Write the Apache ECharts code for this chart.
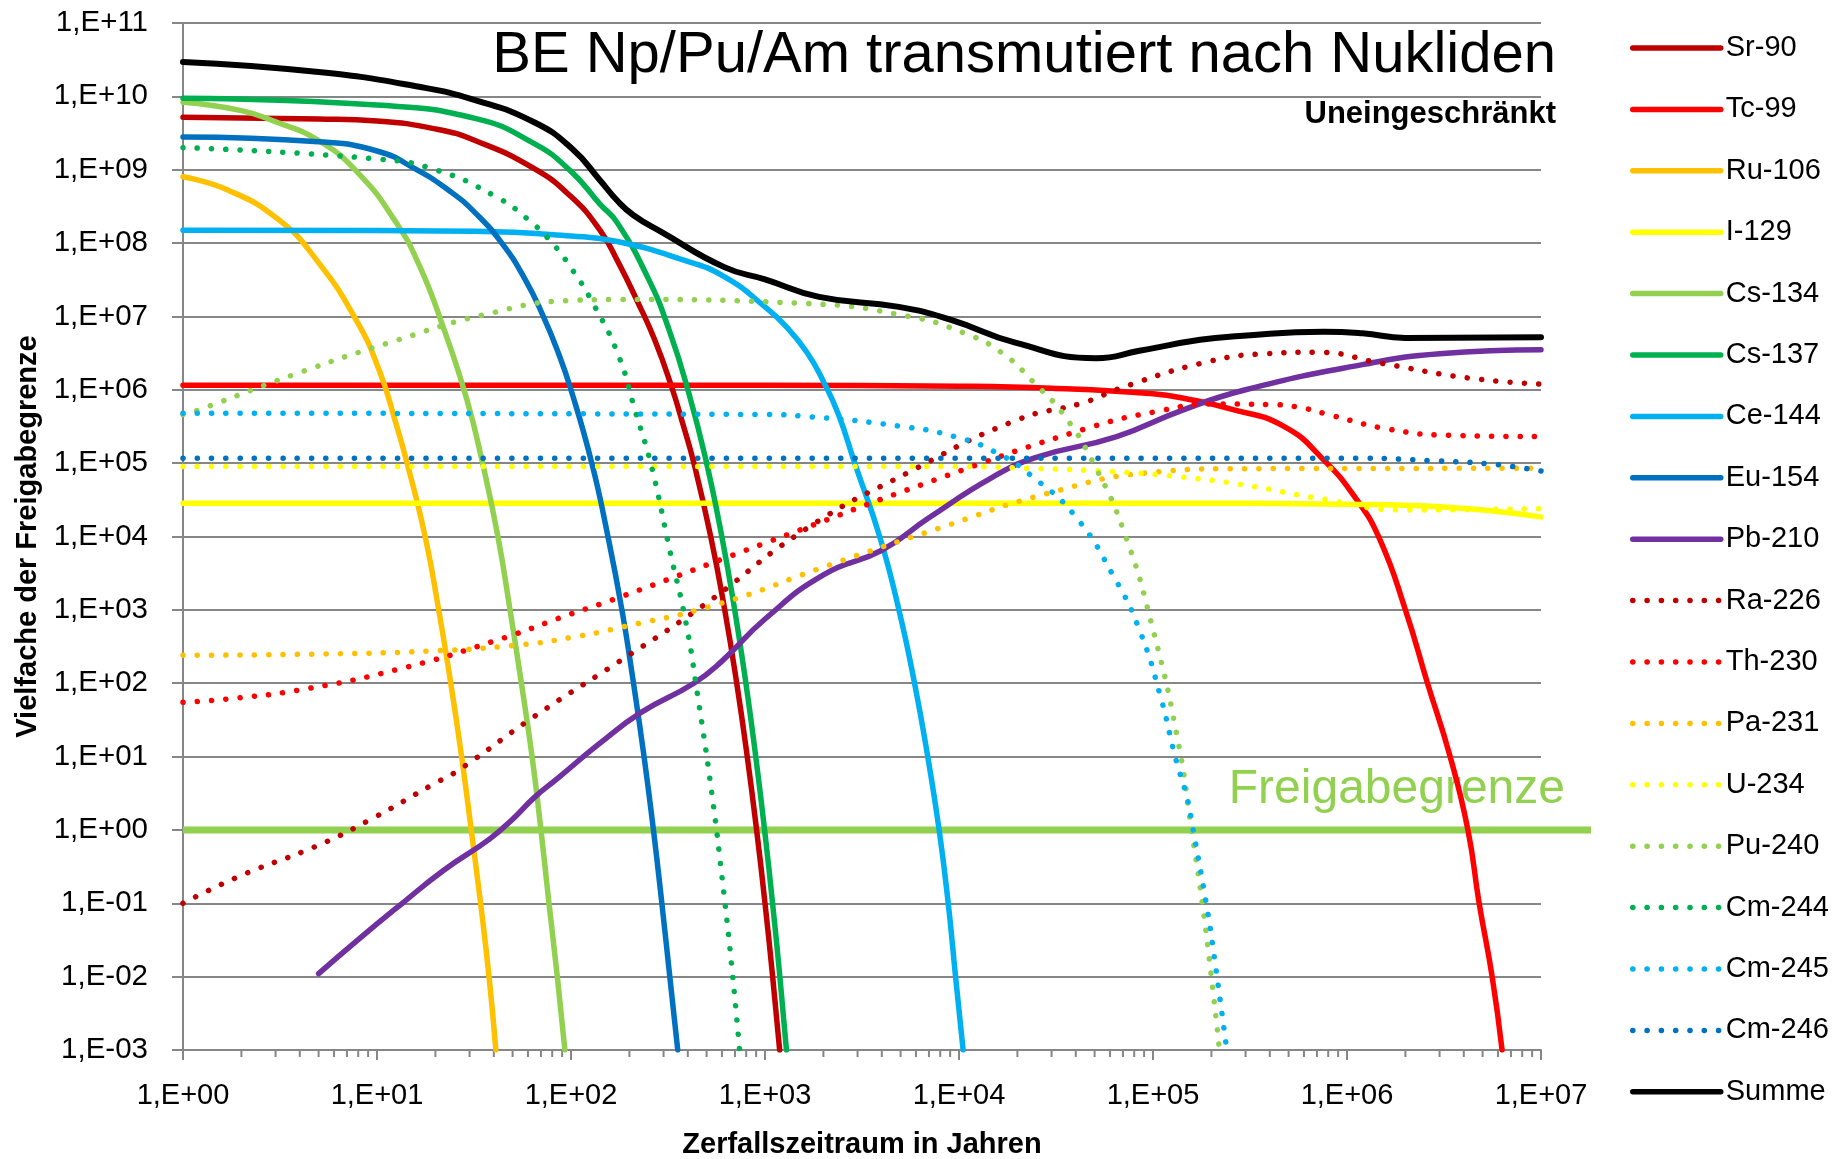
<!DOCTYPE html>
<html>
<head>
<meta charset="utf-8">
<script src="https://cdn.jsdelivr.net/npm/echarts@6/dist/echarts.min.js"></script>
<style>
  html, body { margin: 0; padding: 0; background: #fff; }
  #echart { width: 1845px; height: 1159px; }
</style>
</head>
<body>
<div id="echart"></div>
<script>
const FONT = "'Liberation Sans', Arial, sans-serif";

// Werte [Jahre, Vielfache der Freigabegrenze]
const sr90 = [[1,5.2e9],[5,4.9e9],[10,4.6e9],[20,3.6e9],[32,2.5e9],[64,1.05e9],[100,4.3e8],[141,1.5e8],[175,5.5e7],[220,1.6e7],[270,4.8e6],[330,1.1e6],[380,3.2e5],[430,1e5],[525,1e4],[620,1e3],[715,100],[810,10],[905,1],[1000,0.1],[1095,0.01],[1190,0.001]];
const tc99 = [[1,1.15e6],[1000,1.15e6],[1e4,1.12e6],[3e4,1.05e6],[1e5,8.8e5],[1.5e5,7.5e5],[2.5e5,5.5e5],[4.7e5,3.2e5],[7.6e5,1.1e5],[1.12e6,3.2e4],[1.48e6,9e3],[2e6,1e3],[2.6e6,100],[3.4e6,10],[4.2e6,1],[4.8e6,0.1],[5.6e6,0.01],[6.3e6,0.001]];
const ru106 = [[1,8e8],[1.7,5.3e8],[3.1,2.1e8],[4.85,6e7],[7.8,9e6],[10.3,1.8e6],[12.4,3.8e5],[14.3,1e5],[17.7,1e4],[20.8,1e3],[24,100],[27.3,10],[30.6,1],[34.2,0.1],[37.8,0.01],[41,0.001]];
const i129 = [[1,2.85e4],[1e5,2.85e4],[1e6,2.75e4],[3e6,2.55e4],[1e7,1.85e4]];
const cs134 = [[1,8.3e9],[2,6.4e9],[3,4.5e9],[5,2.5e9],[8,9e8],[12.4,2e8],[16.5,5e7],[22,7e6],[29,7.5e5],[35,1e5],[42,1e4],[48.5,1e3],[55.5,100],[63,10],[70,1],[77,0.1],[85,0.01],[93,0.001]];
const cs137 = [[1,9.4e9],[10,7.6e9],[32,5e9],[64,2.3e9],[100,9.5e8],[141,3.4e8],[173,1.9e8],[250,3.3e7],[320,6.6e6],[405,9e5],[500,1e5],[599,1e4],[698,1e3],[797,100],[896,10],[995,1],[1094,0.1],[1193,0.01],[1290,0.001]];
const ce144 = [[1,1.5e8],[10,1.48e8],[32,1.45e8],[100,1.25e8],[173,1.05e8],[378,5.9e7],[616,3.5e7],[1000,1.35e7],[1290,7.2e6],[1650,3.2e6],[2000,1.3e6],[2400,4.5e5],[2900,1e5],[3900,1e4],[4900,1e3],[5900,100],[6900,10],[7900,1],[8800,0.1],[9600,0.01],[10500,0.001]];
const eu154 = [[1,2.8e9],[5,2.4e9],[10,1.8e9],[16,1e9],[24,5e8],[32,2.6e8],[44,1e8],[58,3.2e7],[72,1e7],[86,3.2e6],[100,1e6],[128,1e5],[155,1e4],[183,1e3],[210,100],[238,10],[266,1],[294,0.1],[323,0.01],[355,0.001]];
const pb210 = [[5,0.011],[8,0.032],[13.5,0.1],[22,0.28],[38,0.75],[50,1.4],[65,2.8],[85,5],[140,15],[230,40],[430,100],[600,200],[1000,750],[2000,3e3],[4000,6.5e3],[7000,1.8e4],[1.5e4,6.5e4],[2.5e4,1.2e5],[6.5e4,2.3e5],[1.4e5,5.2e5],[3e5,1e6],[1.2e6,2.2e6],[3e6,3.1e6],[1e7,3.5e6]];
const ra226 = [[1,0.1],[2,0.24],[5,0.62],[9.3,1.4],[19.5,4.2],[26.5,6.6],[64.5,35],[173,190],[470,1.1e3],[1650,1.3e4],[5500,7.5e4],[1.95e4,3.8e5],[4.4e4,6.7e5],[7.1e4,1.1e6],[1.9e5,2.4e6],[3.8e5,3.1e6],[7e5,3.25e6],[1.5e6,2.3e6],[4.2e6,1.45e6],[1e7,1.2e6]];
const th230 = [[1,55],[1.7,61],[4,81],[13,156],[42,390],[100,880],[180,1.5e3],[1070,8.7e3],[7500,5.9e4],[4.6e4,3e5],[1.1e5,5.2e5],[2e5,6.4e5],[4e5,6.3e5],[6e5,5.6e5],[8.5e5,4.4e5],[1.65e6,2.9e5],[3.3e6,2.4e5],[1e7,2.3e5]];
const pa231 = [[1,240],[5,250],[19,275],[53,330],[100,420],[177,570],[575,1.2e3],[2100,4e3],[7900,1.3e4],[2.9e4,3.9e4],[9.5e4,7.4e4],[2.7e5,8.4e4],[1e7,8.5e4]];
const u234 = [[1,9e4],[1e4,9e4],[2.3e4,8.5e4],[5.5e4,7.8e4],[1.3e5,6.6e4],[3e5,5e4],[7.2e5,3.3e4],[2e6,2.3e4],[1e7,2.4e4]];
const pu240 = [[1,4.6e5],[1.2,5.3e5],[3.7,1.6e6],[11.6,4.4e6],[36.6,1.07e7],[100,1.65e7],[173,1.7e7],[1640,1.5e7],[5500,1e7],[1.07e4,5.9e6],[1.66e4,3.2e6],[2.45e4,1.23e6],[3.5e4,4.4e5],[5e4,9.3e4],[7.1e4,1.15e4],[1e5,540],[1.35e5,15.5],[1.58e5,1],[1.85e5,0.055],[2.2e5,0.001]];
const cm244 = [[1,2e9],[10,1.4e9],[20,1e9],[41,4.3e8],[60,2.1e8],[80,1e8],[100,4.6e7],[130,1.5e7],[176,2.9e6],[214,5.2e5],[260,9e4],[325,6e3],[390,700],[450,67],[535,2.8],[600,0.23],[670,0.016],[740,0.001]];
const cm245 = [[1,4.8e5],[1000,4.6e5],[1700,4.3e5],[4900,3.2e5],[9500,2.3e5],[1.55e4,1.4e5],[2.4e4,6.5e4],[4e4,1.85e4],[6.3e4,2.8e3],[8.5e4,540],[1.1e5,62],[1.3e5,10],[1.5e5,2.7],[1.6e5,1.1],[1.9e5,0.085],[2.1e5,0.014],[2.4e5,0.001]];
const cm246 = [[1,1.17e5],[1e6,1.17e5],[3e6,1.07e5],[6e6,9.5e4],[1e7,7.8e4]];
const summe = [[1,2.95e10],[5,2.15e10],[16.5,1.35e10],[32,8.9e9],[65,4.4e9],[102,1.9e9],[141,7.2e8],[173,3.8e8],[210,2.4e8],[295,1.4e8],[617,4.7e7],[1000,3.2e7],[1900,1.85e7],[4900,1.35e7],[9100,9e6],[1.95e4,4.4e6],[5.1e4,2.7e6],[8.5e4,3.4e6],[1.75e5,4.8e6],[2.8e5,5.4e6],[7.6e5,6.2e6],[1.2e6,5.9e6],[2e6,5.1e6],[1e7,5.2e6]];
// Freigabegrenze läuft etwas über die Achse hinaus (bis ca. 1,8E+07)
const freigabe = [[1,1],[1.8e7,1]];

const minorSteps = [2,3,4,5,6,7,8,9];
const decades = [1,10,100,1e3,1e4,1e5,1e6];

const nuclides = [
  ['Sr-90', sr90, '#C00000', false],
  ['Tc-99', tc99, '#FF0000', false],
  ['Ru-106', ru106, '#FFC000', false],
  ['I-129', i129, '#FFFF00', false],
  ['Cs-134', cs134, '#92D050', false],
  ['Cs-137', cs137, '#00B050', false],
  ['Ce-144', ce144, '#00B0F0', false],
  ['Eu-154', eu154, '#0070C0', false],
  ['Pb-210', pb210, '#7030A0', false],
  ['Ra-226', ra226, '#C00000', true],
  ['Th-230', th230, '#FF0000', true],
  ['Pa-231', pa231, '#FFC000', true],
  ['U-234', u234, '#FFFF00', true],
  ['Pu-240', pu240, '#92D050', true],
  ['Cm-244', cm244, '#00B050', true],
  ['Cm-245', cm245, '#00B0F0', true],
  ['Cm-246', cm246, '#0070C0', true],
  ['Summe', summe, '#000000', false]
];

// kleine Striche 2..9 je Dekade auf der Zeitachse
const minorTickData = [];
decades.forEach(d => minorSteps.forEach(m => minorTickData.push([d * m, 1e-3])));

function sci(v) {
  const e = Math.round(Math.log10(v));
  return '1,E' + (e < 0 ? '-' : '+') + String(Math.abs(e)).padStart(2, '0');
}

const chart = echarts.init(document.getElementById('echart'));

const series = [];

// zuerst die Freigabegrenze, damit die Kurven darüber liegen
series.push({
  name: 'Freigabegrenze',
  type: 'line',
  xAxisIndex: 1,
  yAxisIndex: 1,
  data: freigabe,
  symbol: 'none',
  lineStyle: { color: '#92D050', width: 7 }
});

nuclides.forEach(([name, data, color, dotted]) => series.push({
  name: name,
  type: 'line',
  data: data,
  symbol: 'none',
  smooth: 0.5,
  lineStyle: {
    color: color,
    width: name === 'Summe' ? 6 : 5.5,
    type: dotted ? [0.1, 14.2] : 'solid',
    cap: 'round'
  },
  itemStyle: { color: color }
}));

series.push({
  name: 'minor',
  type: 'custom',
  data: minorTickData,
  silent: true,
  clip: false,
  renderItem: function (params, api) {
    const p = api.coord([api.value(0), api.value(1)]);
    return {
      type: 'line',
      shape: { x1: p[0], y1: p[1], x2: p[0], y2: p[1] + 7 },
      style: { stroke: '#868686', lineWidth: 2 }
    };
  }
});

const option = {
  animation: false,
  backgroundColor: '#ffffff',
  textStyle: { fontFamily: FONT },
  title: [
    {
      text: 'BE Np/Pu/Am transmutiert nach Nukliden',
      right: 289, top: 27, padding: 0,
      textStyle: { fontFamily: FONT, fontSize: 58, fontWeight: 'normal', color: '#000' }
    },
    {
      text: 'Uneingeschränkt',
      right: 289, top: 99, padding: 0,
      textStyle: { fontFamily: FONT, fontSize: 31, fontWeight: 'bold', color: '#000' }
    },
    {
      text: 'Freigabegrenze',
      right: 280, top: 766, padding: 0, z: 1,
      textStyle: { fontFamily: FONT, fontSize: 48, fontWeight: 'normal', color: '#92D050' }
    }
  ],
  legend: {
    orient: 'vertical',
    left: 1630,
    top: 33,
    padding: 0,
    itemWidth: 88,
    itemHeight: 30,
    itemGap: 31.4,
    data: nuclides.map(n => n[0]),
    itemStyle: { opacity: 0 },
    lineStyle: { width: 5.5, cap: 'round' },
    textStyle: { fontFamily: FONT, fontSize: 29, lineHeight: 30, color: '#000' }
  },
  grid: [
    { left: 183, right: 304, top: 23, bottom: 109, outerBoundsMode: 'none', containLabel: false },
    { left: 183, right: 254, top: 23, bottom: 109, outerBoundsMode: 'none', containLabel: false }
  ],
  xAxis: [
    {
      type: 'log',
      logBase: 10,
      min: 1,
      max: 1e7,
      interval: 1,
      splitNumber: 7,
      name: 'Zerfallszeitraum in Jahren',
      nameLocation: 'middle',
      nameGap: 80,
      nameTextStyle: { fontFamily: FONT, fontSize: 29, fontWeight: 'bold', color: '#000' },
      axisLine: { show: true, lineStyle: { color: '#868686', width: 2 } },
      axisTick: { show: true, length: 10, lineStyle: { color: '#868686', width: 2 } },
      axisLabel: { formatter: sci, fontSize: 29, color: '#000', margin: 31, fontFamily: FONT },
      splitLine: { show: false }
    },
    {
      gridIndex: 1,
      type: 'log',
      logBase: 10,
      min: 1,
      max: 1.8e7,
      show: false
    }
  ],
  yAxis: [
    {
      type: 'log',
      logBase: 10,
      min: 1e-3,
      max: 1e11,
      interval: 1,
      name: 'Vielfache der Freigabegrenze',
      nameLocation: 'middle',
      nameGap: 127,
      nameTextStyle: { fontFamily: FONT, fontSize: 29, fontWeight: 'bold', color: '#000' },
      axisLine: { show: true, lineStyle: { color: '#868686', width: 2 } },
      axisTick: { show: true, length: 11, lineStyle: { color: '#868686', width: 2 } },
      axisLabel: { formatter: sci, fontSize: 29.5, color: '#000', margin: 35, fontFamily: FONT },
      splitLine: { show: true, lineStyle: { color: '#868686', width: 2 } }
    },
    {
      gridIndex: 1,
      type: 'log',
      logBase: 10,
      min: 1e-3,
      max: 1e11,
      show: false
    }
  ],
  series: series
};

chart.setOption(option);
</script>
</body>
</html>
